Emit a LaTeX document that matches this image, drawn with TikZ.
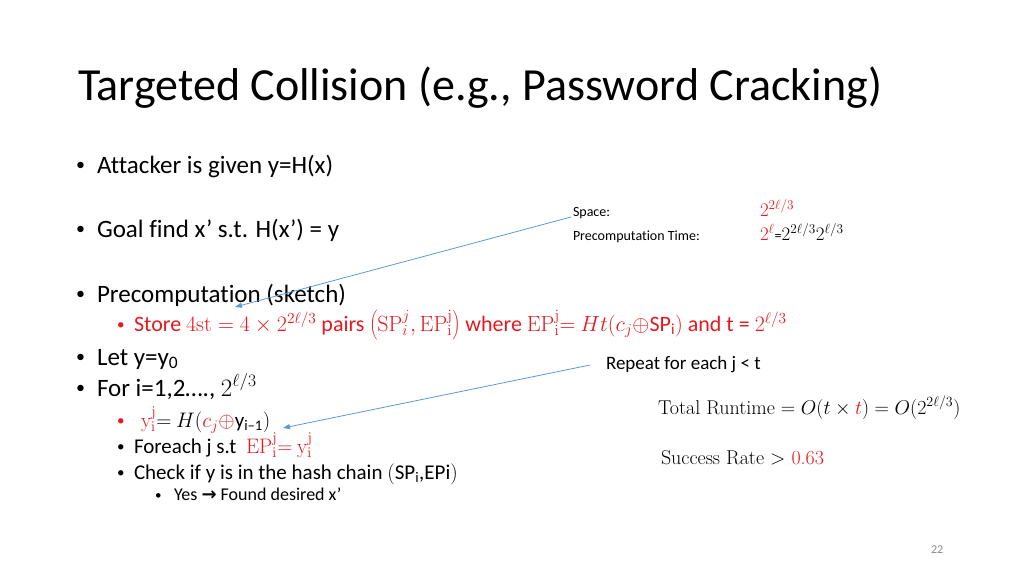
\RequirePackage{fix-cm}
\documentclass[tikz,border=0pt]{standalone}
\usepackage[no-math]{fontspec}
\setmainfont{Carlito}[Ligatures=NoCommon]
\newfontfamily\serifm{Latin Modern Roman}
\newfontfamily\djv{DejaVu Sans}
\usetikzlibrary{arrows.meta}
\definecolor{sred}{RGB}{230,25,30}
\definecolor{sblue}{RGB}{91,155,213}
\definecolor{sgray}{RGB}{137,137,137}
\begin{document}
\begin{tikzpicture}[x=1pt,y=-1pt,
 every node/.style={inner sep=0pt, outer sep=0pt, anchor=base west},
 title/.style={font=\fontsize{46}{46}\selectfont},
 lone/.style={font=\fontsize{25}{25}\selectfont},
 ltwo/.style={font=\fontsize{21}{21}\selectfont},
 lstore/.style={font=\fontsize{22}{22}\selectfont},
 lthree/.style={font=\fontsize{18}{18}\selectfont},
 bone/.style={font=\fontsize{18}{18}\selectfont},
 btwo/.style={font=\fontsize{15}{15}\selectfont},
 bthree/.style={font=\fontsize{13}{13}\selectfont},
 side/.style={font=\fontsize{14}{14}\selectfont},
 sidem/.style={font=\fontsize{19}{19}\selectfont},
 note/.style={font=\fontsize{19}{19}\selectfont},
 serifnote/.style={font=\serifm\fontsize{20}{20}\selectfont},
 link/.style={draw=sblue, line width=0.8pt, -{Triangle[length=7pt,width=5pt]}},
]
\useasboundingbox[fill=white] (0,0) rectangle (1024,576);

\node[title] (title) at (78,100) {Targeted Collision (e.g., Password Cracking)};

% level one
\node[bone] (b1) at (76,170) {•};
\node[lone] (t1) at (97,173) {Attacker is given y=H(x)};
\node[bone] (b2) at (76,234) {•};
\node[lone] (t2) at (97,237) {Goal find x’ s.t. H(x’) = y};
\node[bone] (b3) at (76,299) {•};
\node[lone] (t3) at (97,302) {Precomputation (sketch)};
\node[btwo,text=sred] (b31) at (117,329) {•};
\node[lstore,text=sred] (t31) at (134,331) {Store $\mathrm{4st}=4\times2^{2\ell/3}$ pairs $\left(\mathrm{SP}_i^j,\mathrm{EP}_{\mathrm{i}}^{\mathrm{j}}\right)$ where $\mathrm{EP}_{\mathrm{i}}^{\mathrm{j}}{=}\ Ht(c_j\oplus$SP\textsubscript{i}$)$ and t = $2^{\ell/3}$};
\node[bone] (b4) at (76,362) {•};
\node[lone] (t4) at (97,365) {Let y=y\textsubscript{0}};
\node[bone] (b5) at (76,393) {•};
\node[lone] (t5) at (97,396) {For i=1,2…., $2^{\ell/3}$};
\node[btwo,text=sred] (b51) at (117,425) {•};
\node[ltwo] (t51) at (141,427) {{\color{sred}$\mathrm{y}_{\mathrm{i}}^{\mathrm{j}}$}${=}\ H($$\color{sred}c_j\oplus$y\textsubscript{i–1}$)$};
\node[btwo] (b52) at (117,451) {•};
\node[ltwo] (t52) at (134,453) {Foreach j s.t \ {\color{sred}$\mathrm{EP}_{\mathrm{i}}^{\mathrm{j}}{=}\ \mathrm{y}_{\mathrm{i}}^{\mathrm{j}}$}};
\node[btwo] (b53) at (117,477) {•};
\node[ltwo] (t53) at (134,479) {Check if y is in the hash chain $($SP\textsubscript{i},EPi$)$};
\node[bthree] (b531) at (155,499) {•};
\node[lthree] (t531) at (174,500) {Yes {\djv\bfseries →} Found desired x’};

% side notes
\node[side] (space) at (573,216) {Space:};
\node[side] (ptime) at (573,240) {Precomputation Time:};
\node[sidem,text=sred] (spv) at (760,216) {$2^{2\ell/3}$};
\node[sidem] (ptv) at (760,240) {{\color{sred}$2^{\ell}$}{\fontsize{14}{14}\selectfont=}$2^{2\ell/3}2^{\ell/3}$};
\node[note] (rep) at (606,369) {Repeat for each j < t};
\node[serifnote] (tot) at (658,414) {Total Runtime $= O(t\times{\color{sred}t}) = O(2^{2\ell/3})$};
\node[serifnote] (succ) at (661,464) {Success Rate $>$ {\color{sred}0.63}};
\node[font=\fontsize{12}{12}\selectfont,text=sgray] (pg) at (931,553) {22};

% connectors
\coordinate (a1s) at (571,217);
\coordinate (a1e) at (235,307);
\coordinate (a2s) at (590,365);
\coordinate (a2e) at (283,428);
\draw[link] (a1s) -- (a1e);
\draw[link] (a2s) -- (a2e);
\end{tikzpicture}
\end{document}
